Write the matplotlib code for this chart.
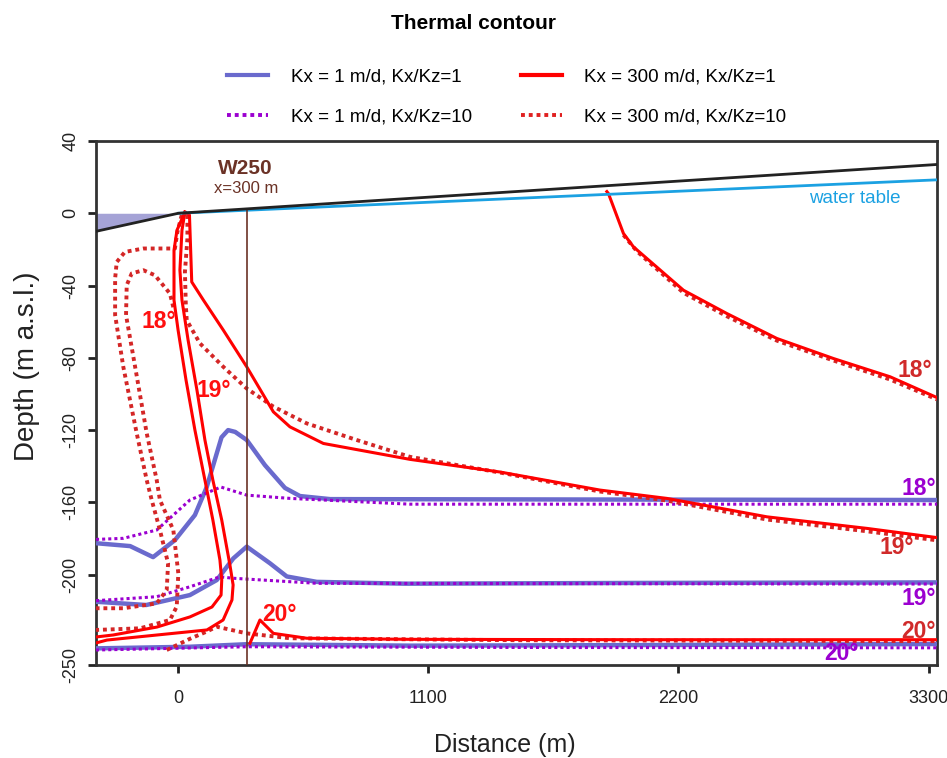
import numpy as np
import matplotlib
matplotlib.use("Agg")
import matplotlib.pyplot as plt

plt.rcParams['font.family'] = ['Liberation Sans', 'DejaVu Sans']
plt.rcParams['axes.unicode_minus'] = False

# ---- data (distance in m, elevation in m a.s.l.) ----
ground_x = [-362, 0, 3337]
ground_y = [-10, 0, 27]
wt_x = [0, 3337]
wt_y = [0, 18.5]
WELL_X = 300

# Kx = 1 m/d, Kx/Kz = 1 (solid blue)
b18_x = [-362, -212, -111, -15, 73, 125, 190, 219, 250, 301, 381, 469, 535, 668, 3337]
b18_y = [-182.6, -184.2, -190.3, -180.9, -167, -151.5, -124, -120, -121, -125.5, -139.4, -152, -156.5, -158.2, -158.7]
b19_x = [-362, -141, 51, 169, 242, 301, 403, 477, 609, 1000, 2000, 3337]
b19_y = [-215, -216.8, -211.3, -203, -191, -184.5, -193.7, -201, -204, -205, -204.6, -204.3]
b20_x = [-362, 51, 301, 1019, 2000, 3337]
b20_y = [-240.8, -239.9, -238.5, -239.3, -239, -238.4]

# Kx = 1 m/d, Kx/Kz = 10 (dotted purple)
p18_x = [-362, -242, -95, 51, 187, 301, 491, 1019, 3337]
p18_y = [-180.5, -179.9, -175.3, -158.7, -151.5, -156, -157.8, -161, -161]
p19_x = [-362, -95, 51, 183, 242, 491, 609, 3337]
p19_y = [-214.4, -212.2, -206.7, -201.2, -202, -203.9, -204.8, -205.2]
p20_x = [-362, 301, 1500, 3337]
p20_y = [-241.7, -239.9, -240.3, -240.5]

# Kx = 300 m/d, Kx/Kz = 1 (solid red)
rA_x = [29, -6, -19, -19, -1, 34, 73, 117, 152, 183, 191, 188, 148, 51, -94, -287, -362]
rA_y = [0.6, -9.4, -20.5, -48.1, -64.7, -92.4, -120, -147.7, -169.8, -191.9, -203, -211.3, -217.9, -223.4, -229, -233.4, -234.5]
rB_x = [29, 16, 7, 16, 43, 82, 117, 152, 191, 227, 241, 236, 197, 126, -94, -314, -362]
rB_y = [0.6, -9.4, -31.5, -48.1, -70.2, -97.9, -125.5, -147.7, -169.8, -194.7, -205.7, -214, -225.1, -230.6, -233.4, -236.2, -237.8]
rC_x = [29, 49, 59, 110, 198, 301, 418, 491, 638, 1019, 1415, 1855, 2149, 2589, 3029, 3337]
rC_y = [0.6, -1, -38, -48, -64.7, -85, -109.9, -118.2, -127.4, -136.2, -143.2, -153.2, -157.8, -168, -174.4, -179.5]
rR_x = [1885, 1892, 1958, 2002, 2222, 2413, 2633, 2882, 3131, 3337]
rR_y = [12, 10.9, -11.2, -18.6, -42.6, -55.5, -69.3, -80.4, -90.5, -102]
r20_x = [315, 359, 418, 565, 1019, 2000, 3337]
r20_y = [-238, -225.1, -232.5, -235.2, -235.8, -236, -236]

# Kx = 300 m/d, Kx/Kz = 10 (dotted red)
dOut_x = [15, -4, -15, -154, -235, -271, -278, -278, -242, -183, -139, -117, -81, -45, -51, -95, -242, -362]
dOut_y = [-1, -10.3, -19.5, -19.5, -21.4, -27, -36.1, -56.4, -85, -121.8, -147.7, -158.7, -175.3, -193.7, -208.5, -215.9, -218.6, -218.6]
dIn_x = [-22, -37, -103, -154, -205, -227, -230, -190, -139, -95, -81, -22, 0, -7, -37, -168, -362]
dIn_y = [-52, -44.4, -34.3, -31.5, -33.3, -39.8, -56.4, -85, -121.8, -147.7, -158.7, -175.3, -199.3, -217.7, -225.1, -229.7, -230.6]
dC_x = [40, 40, 29, 33, 37, 95, 198, 301, 418, 565, 785, 1019, 1415, 1855, 2149, 2589, 3029, 3337]
dC_y = [-1, -14, -32.5, -50.9, -59.2, -72, -85, -97, -107, -116.3, -125.5, -134.8, -143.5, -154, -159, -169.5, -176, -181]
dR_x = [1958, 2017, 2222, 2413, 2633, 2882, 3131, 3337]
dR_y = [-12, -21, -44, -57, -70.5, -81.5, -92, -103]
d20_x = [-51, 51, 125, 169, 301, 491, 1500, 3337]
d20_y = [-241.7, -235.5, -231.5, -228.8, -232.5, -235.2, -236.3, -236.8]

# contour labels: (text, x, y, colour)
labels = [
    ("18°", -88, -60, "#ff1010"),
    ("19°", 154, -98, "#ff1010"),
    ("20°", 447, -222, "#ff1010"),
    ("18°", 3241, -87, "#d02a2a"),
    ("19°", 3161, -185, "#d02a2a"),
    ("20°", 3256, -231.6, "#d02a2a"),
    ("18°", 3256, -152.3, "#9b00d0"),
    ("19°", 3256, -213.1, "#9b00d0"),
    ("20°", 2919, -243.5, "#9b00d0"),
]

BLUE = "#6a6acd"
PURPLE = "#9b00d0"
RED = "#ff0000"
DRED = "#d42626"
DOT = (0, (1, 1))

fig = plt.figure(figsize=(9.47, 7.58), dpi=100)
ax = fig.add_axes([0.1014, 0.1227, 0.888, 0.6913])

# fill left of the stream
ax.fill_between([ground_x[0], ground_x[1]], [ground_y[0], ground_y[1]], [0, 0],
                color="#a5a3d6", lw=0, zorder=1)

for xs, ys in [(b18_x, b18_y), (b19_x, b19_y), (b20_x, b20_y)]:
    ax.plot(xs, ys, color=BLUE, lw=3.2, solid_capstyle="butt", zorder=3)
for xs, ys in [(p18_x, p18_y), (p19_x, p19_y), (p20_x, p20_y)]:
    ax.plot(xs, ys, color=PURPLE, lw=2.2, ls=DOT, zorder=4)
for xs, ys in [(rA_x, rA_y), (rB_x, rB_y), (rC_x, rC_y), (rR_x, rR_y), (r20_x, r20_y)]:
    ax.plot(xs, ys, color=RED, lw=2.2, zorder=5)
for xs, ys in [(dOut_x, dOut_y), (dIn_x, dIn_y), (dC_x, dC_y), (dR_x, dR_y), (d20_x, d20_y)]:
    ax.plot(xs, ys, color=DRED, lw=2.8, ls=DOT, zorder=4)

# water table, ground and well
ax.plot(wt_x, wt_y, color="#1ba1e2", lw=2, zorder=6)
ax.plot(ground_x, ground_y, color="#222222", lw=2, zorder=7)
well_top = np.interp(WELL_X, ground_x, ground_y)
ax.plot([WELL_X, WELL_X], [well_top, -250], color="#6b3226", lw=1.2, zorder=6)

ax.text(295, 25, "W250", color="#6b3226", fontsize=15, fontweight="bold",
        ha="center", va="center")
ax.text(300, 13.5, "x=300 m", color="#6b3226", fontsize=12, ha="center", va="center")
ax.text(2977, 8, "water table", color="#1ba1e2", fontsize=13.5, ha="center", va="center")

for txt, x, y, c in labels:
    ax.text(x, y, txt, color=c, fontsize=16.5, fontweight="bold", ha="center", va="center",
            zorder=8)

ax.set_xlim(-362, 3337)
ax.set_ylim(-250, 40)
ax.set_xticks([0, 1100, 2200, 3300])
ax.set_yticks([40, 0, -40, -80, -120, -160, -200, -250])
ax.tick_params(axis="both", direction="out", length=6, width=2, colors="#222222",
               labelsize=13)
ax.tick_params(axis="x", pad=12)
ax.tick_params(axis="y", pad=6)
for lab in ax.get_yticklabels():
    lab.set_rotation(90)
    lab.set_va("center")
for s in ax.spines.values():
    s.set_linewidth(2)
    s.set_color("#333333")

ax.set_xlabel("Distance (m)", fontsize=18, color="#222222", va="center")
ax.xaxis.set_label_coords((505 - 96) / 841, -0.153)
ax.set_ylabel("Depth (m a.s.l.)", fontsize=20, color="#222222")
ax.yaxis.set_label_coords(-0.0666, 0.571)

# legend
h1, = ax.plot([], [], color=BLUE, lw=3, label="Kx = 1 m/d, Kx/Kz=1")
h2, = ax.plot([], [], color=PURPLE, lw=2.8, ls=DOT, label="Kx = 1 m/d, Kx/Kz=10")
h3, = ax.plot([], [], color=RED, lw=3, label="Kx = 300 m/d, Kx/Kz=1")
h4, = ax.plot([], [], color="#e02020", lw=2.8, ls=DOT, label="Kx = 300 m/d, Kx/Kz=10")
fig.legend(handles=[h1, h2, h3, h4], ncol=2, loc="center", bbox_to_anchor=(0.535, 0.872),
           frameon=False, fontsize=13.5, handlelength=2.2, handletextpad=1.2,
           columnspacing=2.6, labelspacing=1.2)

fig.suptitle("Thermal contour", fontsize=15, fontweight="bold", y=0.982)

fig.savefig("out.png", dpi=100)
